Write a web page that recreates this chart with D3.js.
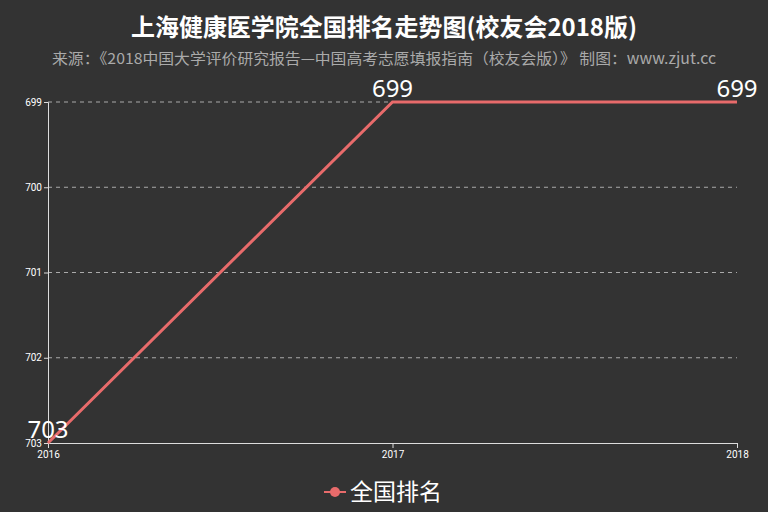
<!DOCTYPE html>
<html><head><meta charset="utf-8">
<script src="https://cdn.jsdelivr.net/npm/d3@7"></script>
<style>
html,body{margin:0;padding:0;background:#333;}
svg{display:block;font-family:"Noto Sans CJK SC","Noto Sans",sans-serif;}
</style></head>
<body>
<svg id="c" width="768" height="512"></svg>
<script>
const titleText = "上海健康医学院全国排名走势图(校友会2018版)";
const subtitleText = "来源：《2018中国大学评价研究报告—中国高考志愿填报指南（校友会版）》 制图：www.zjut.cc";
const years = ["2016", "2017", "2018"];
const ranks = [703, 699, 699];
const yTicks = [699, 700, 701, 702, 703];
const seriesName = "全国排名";

const W = 768, H = 512;
const m = {l: 48, r: 31, t: 102, b: 69};
const svg = d3.select("#c");
svg.append("rect").attr("width", W).attr("height", H).attr("fill", "#333");

const x = d3.scalePoint().domain(years).range([m.l, W - m.r]);
const y = d3.scaleLinear().domain([699, 703]).range([m.t, H - m.b]);

// title
svg.append("text").attr("x", W/2).attr("y", 36).attr("text-anchor", "middle")
  .attr("fill", "#fff").attr("font-size", 24).attr("font-weight", "bold")
  .attr("textLength", 506).attr("lengthAdjust", "spacingAndGlyphs").text(titleText);
svg.append("text").attr("x", W/2).attr("y", 64).attr("text-anchor", "middle")
  .attr("fill", "#aaa").attr("font-size", 15)
  .attr("textLength", 664).attr("lengthAdjust", "spacingAndGlyphs").text(subtitleText);

// grid
svg.append("g").selectAll("line").data(yTicks.slice(0, -1)).join("line")
  .attr("x1", m.l).attr("x2", W - m.r)
  .attr("y1", d => y(d)).attr("y2", d => y(d))
  .attr("stroke", "#aaa").attr("stroke-dasharray", "4,4").attr("stroke-width", 1);

// y axis
const ya = svg.append("g").attr("transform", `translate(${m.l},0)`)
  .call(d3.axisLeft(y).tickValues(yTicks).tickFormat(d3.format("d")).tickSize(4).tickPadding(2));
ya.select(".domain").attr("stroke", "#ddd");
ya.selectAll(".tick line").attr("stroke", "#ddd");
ya.selectAll("text").attr("fill", "#fff").attr("font-size", 10).attr("font-family", "Roboto, sans-serif");

// x axis
const xa = svg.append("g").attr("transform", `translate(0,${H - m.b})`)
  .call(d3.axisBottom(x).tickSize(5).tickSizeOuter(0).tickPadding(3));
xa.select(".domain").attr("stroke", "#ddd");
xa.selectAll(".tick line").attr("stroke", "#ddd");
xa.selectAll("text").attr("fill", "#fff").attr("font-size", 10).attr("font-family", "Roboto, sans-serif");

// line
const data = years.map((yr, i) => ({yr, v: ranks[i]}));
svg.append("path").datum(data)
  .attr("d", d3.line().x(d => x(d.yr)).y(d => y(d.v)))
  .attr("fill", "none").attr("stroke", "#e86b6b").attr("stroke-width", 3);

// labels
svg.append("g").selectAll("text").data(data).join("text")
  .attr("x", d => x(d.yr)).attr("y", d => y(d.v) - 5)
  .attr("text-anchor", "middle").attr("fill", "#fff").attr("font-size", 24)
  .attr("font-family", "Noto Sans, sans-serif")
  .text(d => d.v);

// legend
const lg = svg.append("g").attr("transform", `translate(${W/2 - 60},${492})`);
lg.append("line").attr("x1", 0).attr("x2", 22).attr("y1", 0).attr("y2", 0)
  .attr("stroke", "#e86b6b").attr("stroke-width", 2);
lg.append("circle").attr("cx", 11).attr("cy", 0).attr("r", 5).attr("fill", "#e86b6b");
lg.append("text").attr("x", 26).attr("y", 8).attr("fill", "#fff").attr("font-size", 23).text(seriesName);
</script>
</body></html>
